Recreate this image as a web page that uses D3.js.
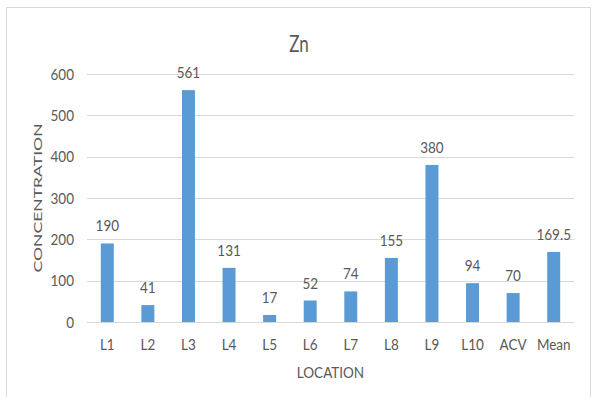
<!DOCTYPE html>
<html>
<head>
<meta charset="utf-8">
<script src="https://cdn.jsdelivr.net/npm/d3@7"></script>
<style>
  html, body { margin: 0; padding: 0; background: #fff; }
  svg text { font-family: Lato, "Open Sans", sans-serif; fill: #595959; }
</style>
</head>
<body>
<svg id="chart" width="594" height="397"></svg>
<script>
// Zn concentration by sampling location
const locations = ["L1", "L2", "L3", "L4", "L5", "L6", "L7", "L8", "L9", "L10", "ACV", "Mean"];
const znValues = [190, 41, 561, 131, 17, 52, 74, 155, 380, 94, 70, 169.5];
const yTicks = [0, 100, 200, 300, 400, 500, 600];

const svg = d3.select("#chart");
const plotLeft = 87, plotRight = 574, plotTop = 74, plotBottom = 322;
const textStretch = 1.18; // text is drawn slightly taller than wide

// chart frame
svg.append("rect")
  .attr("x", 6.5).attr("y", 7.5)
  .attr("width", 584).attr("height", 400)
  .attr("fill", "#fff").attr("stroke", "#d9d9d9").attr("stroke-width", 1);

const x = d3.scaleBand()
  .domain(locations)
  .range([plotLeft, plotRight])
  .paddingInner(0.68).paddingOuter(0.34);

const y = d3.scaleLinear().domain([0, 600]).range([plotBottom, plotTop]);

// horizontal gridlines (the 0 line doubles as the category axis)
svg.append("g")
  .selectAll("line")
  .data(yTicks)
  .join("line")
  .attr("x1", plotLeft).attr("x2", plotRight)
  .attr("y1", d => Math.round(y(d)) + 0.5).attr("y2", d => Math.round(y(d)) + 0.5)
  .attr("stroke", "#d9d9d9").attr("stroke-width", 1);

// y tick labels
svg.append("g")
  .selectAll("text")
  .data(yTicks)
  .join("text")
  .attr("transform", d => `translate(74,${y(d)}) scale(1,${textStretch})`)
  .attr("dy", "0.36em")
  .attr("text-anchor", "end")
  .style("font-size", "13.5px")
  .text(d => d);

// bars
svg.append("g")
  .selectAll("rect")
  .data(znValues)
  .join("rect")
  .attr("x", (d, i) => x(locations[i]))
  .attr("width", x.bandwidth())
  .attr("y", d => y(d))
  .attr("height", d => plotBottom - y(d))
  .attr("fill", "#5b9bd5");

// value labels above bars
svg.append("g")
  .selectAll("text")
  .data(znValues)
  .join("text")
  .attr("transform", (d, i) =>
    `translate(${x(locations[i]) + x.bandwidth() / 2},${y(d) - 12}) scale(1,${textStretch})`)
  .attr("text-anchor", "middle")
  .style("font-size", "13.5px")
  .text(d => d);

// category labels
svg.append("g")
  .selectAll("text")
  .data(locations)
  .join("text")
  .attr("transform", d => `translate(${x(d) + x.bandwidth() / 2},349.5) scale(1,${textStretch})`)
  .attr("text-anchor", "middle")
  .style("font-size", "13.5px")
  .text(d => d);

// chart title
svg.append("text")
  .attr("transform", "translate(299,52) scale(1,1.35)")
  .attr("text-anchor", "middle")
  .style("font-size", "17px")
  .text("Zn");

// axis titles
svg.append("text")
  .attr("transform", `translate(${(plotLeft + plotRight) / 2},378) scale(1,1.2)`)
  .attr("text-anchor", "middle")
  .style("font-size", "13.5px")
  .text("LOCATION");

svg.append("text")
  .attr("transform", `translate(42,${(plotTop + plotBottom) / 2}) rotate(-90) scale(1.1,0.75)`)
  .attr("text-anchor", "middle")
  .style("font-size", "16px")
  .text("CONCENTRATION");
</script>
</body>
</html>
